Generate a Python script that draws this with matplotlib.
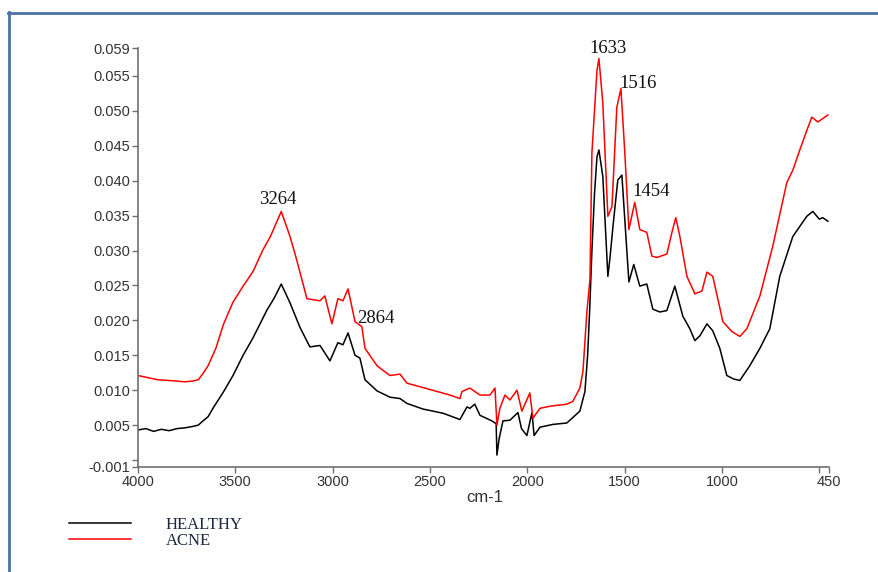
import matplotlib
matplotlib.use("Agg")
import matplotlib.pyplot as plt
from matplotlib.lines import Line2D

# Wavenumbers (cm-1) and absorbance
healthyWn = [4000, 3960, 3920, 3880, 3840, 3800, 3760, 3720, 3690, 3666, 3640, 3615,
             3560, 3512, 3460, 3409, 3337, 3300, 3264, 3219, 3168, 3117, 3065, 3014,
             2973, 2947, 2921, 2885, 2860, 2834, 2772, 2706, 2654, 2618, 2536, 2433,
             2346, 2310, 2295, 2270, 2243, 2182, 2160, 2156, 2145, 2125, 2089, 2048,
             2030, 2002, 1976, 1965, 1935, 1868, 1797, 1730, 1704, 1690, 1680, 1668,
             1655, 1642, 1632, 1612, 1586, 1575, 1560, 1535, 1514, 1499, 1478, 1453,
             1422, 1386, 1355, 1319, 1283, 1242, 1201, 1165, 1139, 1113, 1077, 1047,
             1011, 975, 940, 908, 857, 805, 754, 703, 636, 564, 533, 500, 482, 456]
healthyAbs = [0.0043, 0.0045, 0.0041, 0.0044, 0.0042, 0.0045, 0.0046, 0.0048, 0.0050,
              0.0056, 0.0062, 0.0074, 0.0098, 0.0121, 0.0150, 0.0175, 0.0215, 0.0232,
              0.0252, 0.0225, 0.0190, 0.0162, 0.0164, 0.0142, 0.0168, 0.0165, 0.0182,
              0.0150, 0.0146, 0.0115, 0.0099, 0.0090, 0.0088, 0.0081, 0.0073, 0.0067,
              0.0058, 0.0076, 0.0074, 0.0080, 0.0064, 0.0056, 0.0052, 0.0007, 0.0030,
              0.0056, 0.0057, 0.0068, 0.0045, 0.0035, 0.0068, 0.0035, 0.0047, 0.0051,
              0.0053, 0.0070, 0.0098, 0.0150, 0.0212, 0.0300, 0.0380, 0.0434, 0.0444,
              0.0406, 0.0263, 0.0290, 0.0334, 0.0401, 0.0408, 0.0344, 0.0255, 0.0280,
              0.0249, 0.0252, 0.0216, 0.0212, 0.0214, 0.0249, 0.0206, 0.0188, 0.0171,
              0.0178, 0.0195, 0.0185, 0.0160, 0.0121, 0.0116, 0.0114, 0.0135, 0.0160,
              0.0188, 0.0263, 0.0320, 0.0349, 0.0356, 0.0345, 0.0347, 0.0342]

acneWn = [4000, 3950, 3900, 3850, 3800, 3760, 3720, 3690, 3666, 3640, 3600, 3560,
          3512, 3460, 3409, 3360, 3320, 3264, 3219, 3190, 3132, 3065, 3040, 3004,
          2973, 2947, 2921, 2885, 2850, 2834, 2772, 2706, 2654, 2618, 2552, 2397,
          2346, 2336, 2295, 2243, 2192, 2166, 2156, 2141, 2115, 2089, 2053, 2028,
          1987, 1971, 1935, 1884, 1797, 1766, 1730, 1714, 1694, 1678, 1668, 1642,
          1632, 1612, 1586, 1565, 1540, 1519, 1499, 1478, 1448, 1422, 1386, 1360,
          1334, 1283, 1257, 1237, 1216, 1180, 1139, 1103, 1077, 1047, 995, 949,
          908, 872, 805, 739, 667, 636, 600, 564, 538, 507, 482, 456]
acneAbs = [0.0121, 0.0118, 0.0115, 0.0114, 0.0113, 0.0112, 0.0113, 0.0115, 0.0124,
           0.0135, 0.0160, 0.0195, 0.0226, 0.0249, 0.0270, 0.0300, 0.0320, 0.0356,
           0.0320, 0.0292, 0.0231, 0.0228, 0.0235, 0.0195, 0.0231, 0.0228, 0.0245,
           0.0198, 0.0191, 0.0160, 0.0135, 0.0121, 0.0123, 0.0110, 0.0105, 0.0093,
           0.0088, 0.0098, 0.0103, 0.0093, 0.0093, 0.0103, 0.0050, 0.0074, 0.0093,
           0.0086, 0.0100, 0.0070, 0.0096, 0.0060, 0.0074, 0.0077, 0.0080, 0.0084,
           0.0103, 0.0127, 0.0212, 0.0259, 0.0440, 0.0558, 0.0575, 0.0511, 0.0349,
           0.0363, 0.0505, 0.0532, 0.0440, 0.0330, 0.0369, 0.0330, 0.0326, 0.0292,
           0.0290, 0.0295, 0.0326, 0.0347, 0.0320, 0.0263, 0.0238, 0.0242, 0.0269,
           0.0263, 0.0198, 0.0184, 0.0177, 0.0188, 0.0235, 0.0306, 0.0397, 0.0415,
           0.0444, 0.0472, 0.0491, 0.0484, 0.0489, 0.0494]

# Peak annotations: label, wavenumber, absorbance (left edge of text)
peakLabels = ["3264", "2864", "1633", "1516", "1454"]
peakWn = [3380, 2875, 1680, 1526, 1462]
peakAbs = [0.0373, 0.0202, 0.0589, 0.0539, 0.0384]

xTicks = [4000, 3500, 3000, 2500, 2000, 1500, 1000, 500, 450]
xTickLabels = ["4000", "3500", "3000", "2500", "2000", "1500", "1000", "", "450"]
yTicks = [-0.001, 0.0, 0.005, 0.010, 0.015, 0.020, 0.025, 0.030, 0.035, 0.040,
          0.045, 0.050, 0.055, 0.059]
yTickLabels = ["-0.001", "", "0.005", "0.010", "0.015", "0.020", "0.025", "0.030",
               "0.035", "0.040", "0.045", "0.050", "0.055", "0.059"]

W, H = 879, 572
fig = plt.figure(figsize=(W / 100, H / 100), dpi=100)
ax = fig.add_axes([138 / W, 1 - 467 / H, (829 - 138) / W, (467 - 48) / H])

lineH, = ax.plot(healthyWn, healthyAbs, color="black", lw=1.1, label="HEALTHY")
lineA, = ax.plot(acneWn, acneAbs, color="#ff0000", lw=1.1, label="ACNE")

ax.set_xlim(4000, 450)
ax.set_ylim(-0.001, 0.059)
ax.set_xticks(xTicks)
ax.set_xticklabels(xTickLabels)
ax.set_yticks(yTicks)
ax.set_yticklabels(yTickLabels)

for s in ["top", "right"]:
    ax.spines[s].set_visible(False)
for s in ["left", "bottom"]:
    ax.spines[s].set_color("#707070")
    ax.spines[s].set_linewidth(1.2)
ax.tick_params(axis="both", colors="#707070", labelcolor="#333333", length=4,
               width=1, labelsize=10.5, pad=1.5)
for lbl in ax.get_xticklabels() + ax.get_yticklabels():
    lbl.set_fontfamily("Liberation Sans")

ax.set_xlabel("cm-1", fontsize=12, family="Liberation Sans", color="#333333",
              labelpad=0)
ax.xaxis.set_label_coords((485 - 138) / (829 - 138), -0.055)

for txt, wn, ab in zip(peakLabels, peakWn, peakAbs):
    ax.text(wn, ab, txt, ha="left", va="center", fontsize=13.5,
            family="Liberation Serif", color="#111111")

leg = fig.legend(handles=[lineH, lineA], loc="upper left",
                 bbox_to_anchor=(69 / W, 1 - 517 / H), frameon=False,
                 borderpad=0, borderaxespad=0, handlelength=3.7,
                 handletextpad=2.1, labelspacing=0.0,
                 prop={"family": "Liberation Serif", "size": 12})
for t in leg.get_texts():
    t.set_color("#1c2745")

# blue frame around the picture
frameColor = "#4a74a2"
fig.add_artist(Line2D([8 / W, 1], [1 - 12.5 / H, 1 - 12.5 / H], color=frameColor,
                      lw=2, transform=fig.transFigure))
fig.add_artist(Line2D([9 / W, 9 / W], [0, 1 - 12 / H], color=frameColor,
                      lw=2, transform=fig.transFigure))

fig.savefig("out.png", dpi=100)
